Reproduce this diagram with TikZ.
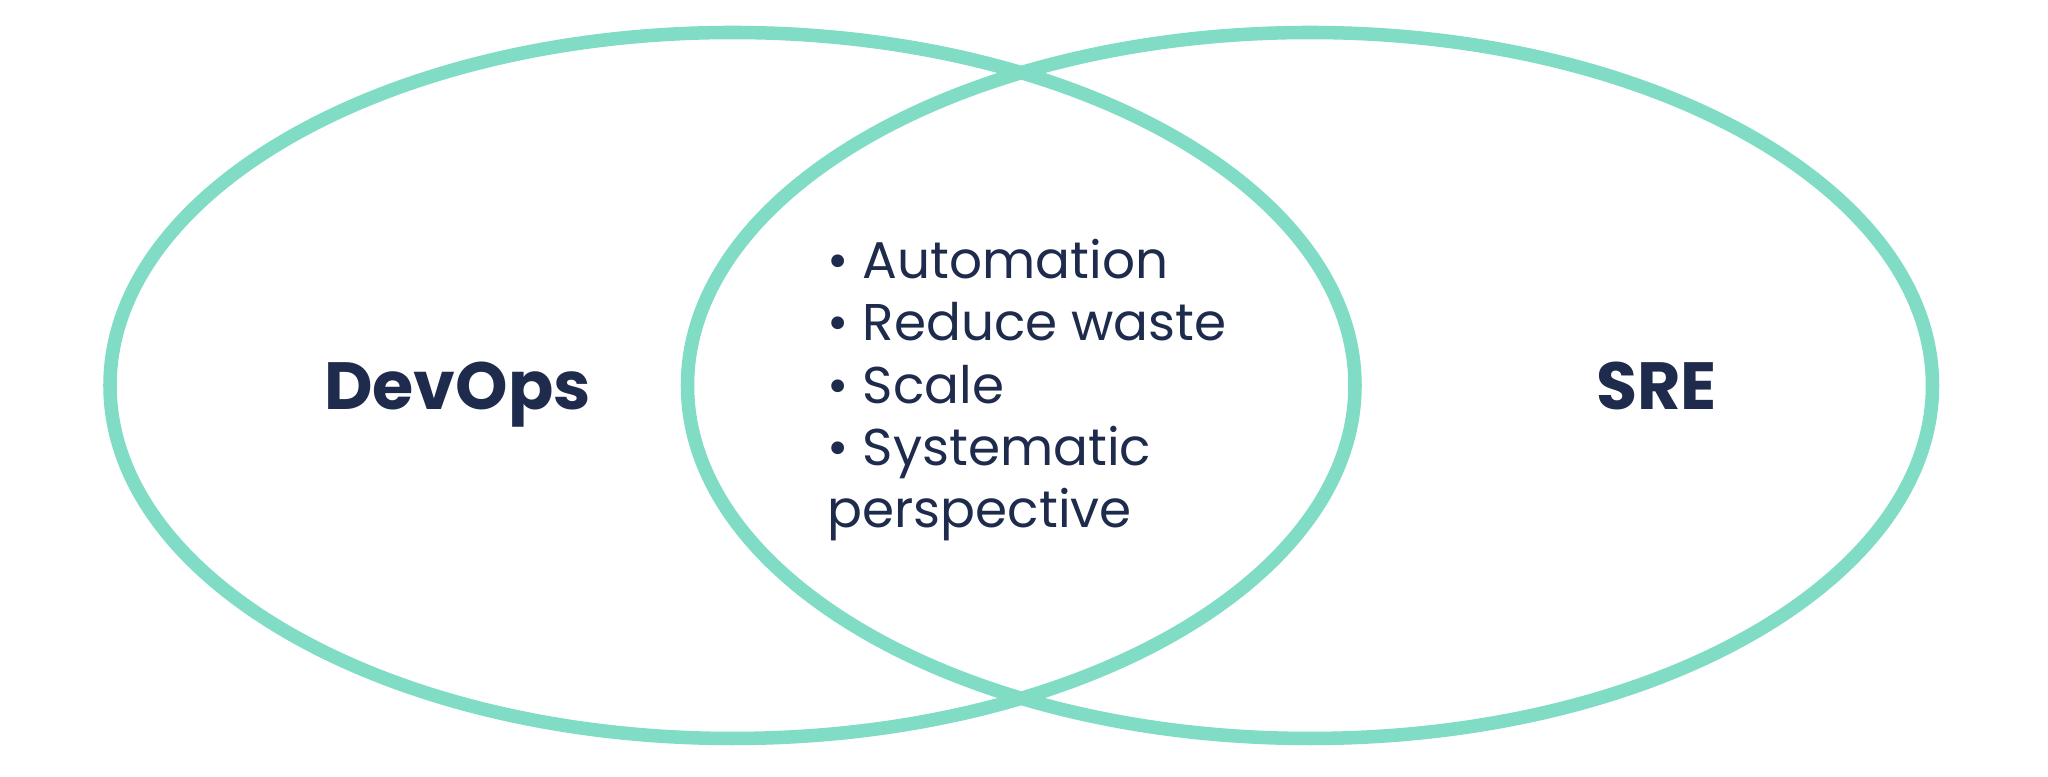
\documentclass[tikz,border=0pt]{standalone}
\usepackage{fontspec}
\setmainfont{Poppins}
\usepackage{tikz}
\definecolor{ringgreen}{HTML}{80DCC4}
\definecolor{inknavy}{HTML}{1E2B4C}

\begin{document}
\begin{tikzpicture}[line width=3.85pt]
\useasboundingbox (0,0) rectangle (20.48,7.77);
% the two rings
\begin{scope}[ringgreen]
	\draw (7.325,3.915) ellipse [x radius=6.225, y radius=3.53];
	\draw (13.10,3.915) ellipse [x radius=6.225, y radius=3.53];
\end{scope}
% labels
\begin{scope}[inknavy, inner sep=0pt]
	\node (devops) [anchor=base, font=\bfseries\fontsize{19}{22}\selectfont] at (4.575,3.67) {DevOps};
	\node (sre) [anchor=base, font=\bfseries\fontsize{19}{22}\selectfont] at (16.565,3.67) {SRE};
	% base of this node is its last line
	\node (common) [anchor=base west, align=left, font=\fontsize{14.7}{17.75}\selectfont] at (8.21,2.49)
		{• Automation\\• Reduce waste\\• Scale\\• Systematic\\perspective};
\end{scope}
\end{tikzpicture}
\end{document}
